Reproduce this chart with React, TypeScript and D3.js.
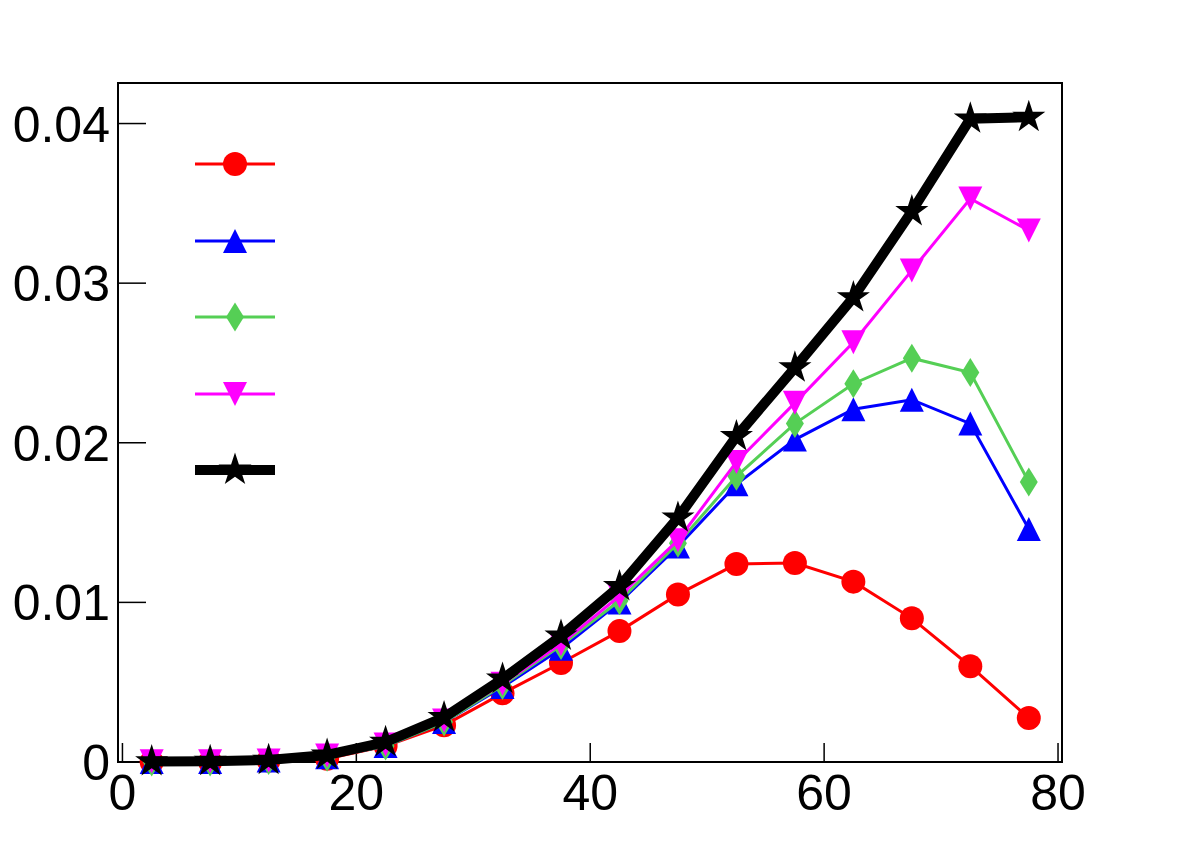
import React from "react";
import * as d3 from "d3";

// bin centres along x
const binCenters = [2.5, 7.5, 12.5, 17.5, 22.5, 27.5, 32.5, 37.5, 42.5, 47.5, 52.5, 57.5, 62.5, 67.5, 72.5, 77.5];

const redValues = [0, 0, 0.0001, 0.0002, 0.001, 0.0023, 0.0043, 0.0062, 0.0082, 0.0105, 0.0124, 0.01247, 0.0113, 0.009, 0.006, 0.00276];
const blueValues = [0, 0, 0.0001, 0.0003, 0.001, 0.0025, 0.0047, 0.0071, 0.01, 0.0135, 0.0174, 0.0202, 0.0221, 0.0227, 0.0212, 0.0146];
const greenValues = [0, 0, 0.0001, 0.0003, 0.001, 0.0025, 0.0048, 0.0073, 0.0101, 0.0137, 0.0179, 0.0212, 0.0237, 0.0253, 0.0244, 0.01754];
const magentaValues = [0.00005, 0.00005, 0.0001, 0.0004, 0.0011, 0.0026, 0.0049, 0.0074, 0.0104, 0.0139, 0.0188, 0.0225, 0.0263, 0.0308, 0.0353, 0.0333];
const blackValues = [0.00003, 0.00005, 0.00012, 0.00044, 0.00125, 0.0028, 0.0052, 0.0079, 0.011, 0.0153, 0.0204, 0.0247, 0.0291, 0.0345, 0.0403, 0.0404];

const xTicks = [0, 20, 40, 60, 80];
const yTicks = [0, 0.01, 0.02, 0.03, 0.04];

// ROOT-like marker shapes, centred on their bounding box
const triUp = {
  draw(ctx: any, size: number) {
    const h = Math.sqrt(size) / 2;
    ctx.moveTo(0, -h);
    ctx.lineTo(h, h);
    ctx.lineTo(-h, h);
    ctx.closePath();
  },
};
const triDown = {
  draw(ctx: any, size: number) {
    const h = Math.sqrt(size) / 2;
    ctx.moveTo(0, h);
    ctx.lineTo(h, -h);
    ctx.lineTo(-h, -h);
    ctx.closePath();
  },
};
const diamond = {
  draw(ctx: any, size: number) {
    const h = Math.sqrt(size) / 2;
    const w = h * 0.62;
    ctx.moveTo(0, -h);
    ctx.lineTo(w, 0);
    ctx.lineTo(0, h);
    ctx.lineTo(-w, 0);
    ctx.closePath();
  },
};

const series = [
  { values: redValues, color: "#ff0000", width: 3, shape: d3.symbolCircle, size: 452 },
  { values: blueValues, color: "#0000ff", width: 3, shape: triUp, size: 576 },
  { values: greenValues, color: "#55cf55", width: 3, shape: diamond, size: 841 },
  { values: magentaValues, color: "#ff00ff", width: 3, shape: triDown, size: 576 },
  { values: blackValues, color: "#000000", width: 10, shape: d3.symbolStar, size: 340 },
];

const legendY = [164, 241, 317, 394, 470];

export default function App() {
  const left = 118, right = 1062, top = 83, bottom = 762;
  const xScale = d3.scaleLinear().domain([-0.38, 80.34]).range([left, right]);
  const yScale = d3.scaleLinear().domain([0, 0.04254]).range([bottom, top]);

  const line = d3.line<number>()
    .x((_, i) => xScale(binCenters[i]))
    .y((d) => yScale(d));

  const font = "'Liberation Sans', Arial, Helvetica, sans-serif";

  return (
    <svg width={1182} height={848} style={{ position: "absolute", left: 0, top: 0, background: "#fff" }}>
      <rect x={0} y={0} width={1182} height={848} fill="#fff" />

      {/* frame */}
      <rect x={left} y={top} width={right - left} height={bottom - top} fill="none" stroke="#000" strokeWidth={2} />

      {/* x axis ticks and labels */}
      {xTicks.map((t) => (
        <g key={"x" + t}>
          <line x1={xScale(t)} x2={xScale(t)} y1={bottom} y2={bottom - 19} stroke="#000" strokeWidth={1.5} />
          <text x={xScale(t)} y={810} textAnchor="middle" fontFamily={font} fontSize={50}>{t}</text>
        </g>
      ))}

      {/* y axis ticks and labels */}
      {yTicks.map((t) => (
        <g key={"y" + t}>
          <line x1={left} x2={left + 28} y1={yScale(t)} y2={yScale(t)} stroke="#000" strokeWidth={1.5} />
          <text x={110} y={yScale(t) + 18} textAnchor="end" fontFamily={font} fontSize={50}>{t === 0 ? "0" : t.toFixed(2)}</text>
        </g>
      ))}

      {/* graphs */}
      {series.map((s, si) => {
        const sym = d3.symbol().type(s.shape as any).size(s.size);
        return (
          <g key={"s" + si}>
            <path d={line(s.values) || ""} fill="none" stroke={s.color} strokeWidth={s.width} strokeLinejoin="miter" />
            {s.values.map((v, i) => (
              <path key={i} d={sym() || ""} transform={`translate(${xScale(binCenters[i])},${yScale(v)})`} fill={s.color} />
            ))}
          </g>
        );
      })}

      {/* legend */}
      {series.map((s, si) => {
        const sym = d3.symbol().type(s.shape as any).size(s.size);
        return (
          <g key={"l" + si}>
            <line x1={195} x2={275} y1={legendY[si]} y2={legendY[si]} stroke={s.color} strokeWidth={s.width} />
            <path d={sym() || ""} transform={`translate(235,${legendY[si]})`} fill={s.color} />
          </g>
        );
      })}
    </svg>
  );
}
